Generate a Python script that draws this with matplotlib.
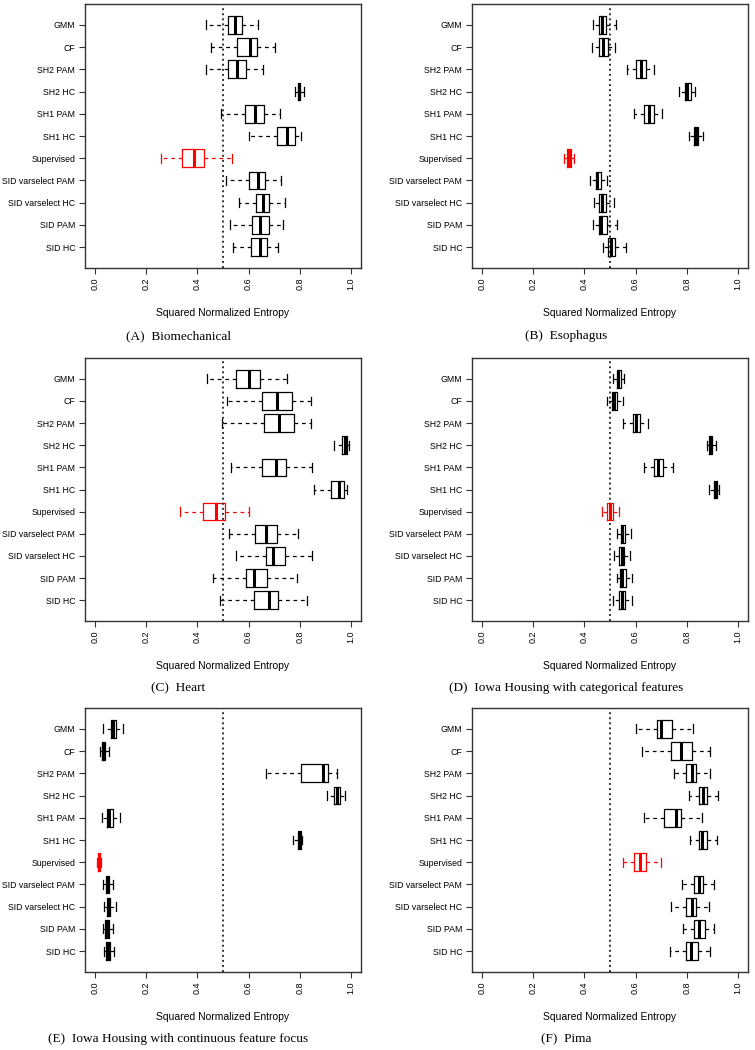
import matplotlib
matplotlib.use("Agg")
import matplotlib.pyplot as plt

plt.rcParams['font.family'] = ['Liberation Sans', 'DejaVu Sans']

# methods, top to bottom
methods = ["GMM", "CF", "SH2 PAM", "SH2 HC", "SH1 PAM", "SH1 HC", "Supervised",
           "SID varselect PAM", "SID varselect HC", "SID PAM", "SID HC"]

# five-number summaries per method: (whisker low, q1, median, q3, whisker high)
biomech = [(0.432, 0.518, 0.547, 0.576, 0.638), (0.453, 0.553, 0.605, 0.632, 0.702),
           (0.432, 0.521, 0.553, 0.590, 0.658), (0.780, 0.792, 0.797, 0.803, 0.816),
           (0.491, 0.586, 0.626, 0.660, 0.723), (0.603, 0.710, 0.749, 0.783, 0.805),
           (0.256, 0.341, 0.388, 0.426, 0.535), (0.513, 0.603, 0.635, 0.664, 0.727),
           (0.561, 0.629, 0.658, 0.681, 0.743), (0.527, 0.612, 0.645, 0.680, 0.734),
           (0.540, 0.608, 0.645, 0.673, 0.716)]
esophagus = [(0.432, 0.456, 0.467, 0.484, 0.523), (0.428, 0.458, 0.471, 0.491, 0.520),
             (0.565, 0.603, 0.621, 0.641, 0.672), (0.770, 0.794, 0.803, 0.815, 0.832),
             (0.594, 0.634, 0.652, 0.672, 0.702), (0.811, 0.827, 0.835, 0.845, 0.862),
             (0.320, 0.333, 0.340, 0.348, 0.361), (0.422, 0.444, 0.451, 0.464, 0.487),
             (0.437, 0.458, 0.469, 0.483, 0.514), (0.432, 0.456, 0.466, 0.488, 0.527),
             (0.471, 0.491, 0.504, 0.521, 0.561)]
heart = [(0.439, 0.552, 0.602, 0.645, 0.751), (0.517, 0.654, 0.712, 0.771, 0.844),
         (0.497, 0.661, 0.720, 0.779, 0.844), (0.935, 0.967, 0.977, 0.986, 0.993),
         (0.531, 0.651, 0.708, 0.747, 0.849), (0.858, 0.922, 0.953, 0.973, 0.987),
         (0.331, 0.421, 0.474, 0.507, 0.600), (0.522, 0.624, 0.667, 0.710, 0.792),
         (0.552, 0.667, 0.697, 0.741, 0.850), (0.460, 0.589, 0.621, 0.673, 0.790),
         (0.488, 0.621, 0.680, 0.716, 0.828)]
iowa_cat = [(0.510, 0.527, 0.532, 0.542, 0.555), (0.487, 0.507, 0.514, 0.526, 0.551),
            (0.551, 0.589, 0.600, 0.617, 0.647), (0.878, 0.889, 0.895, 0.901, 0.913),
            (0.634, 0.674, 0.689, 0.706, 0.746), (0.889, 0.906, 0.910, 0.917, 0.927),
            (0.467, 0.490, 0.500, 0.510, 0.534), (0.526, 0.542, 0.548, 0.560, 0.582),
            (0.514, 0.534, 0.545, 0.555, 0.577), (0.526, 0.539, 0.548, 0.561, 0.586),
            (0.510, 0.534, 0.545, 0.559, 0.587)]
iowa_cont = [(0.031, 0.061, 0.070, 0.082, 0.107), (0.018, 0.026, 0.031, 0.039, 0.055),
             (0.668, 0.807, 0.892, 0.911, 0.948), (0.906, 0.935, 0.948, 0.958, 0.979),
             (0.026, 0.046, 0.055, 0.068, 0.095), (0.773, 0.792, 0.798, 0.805, 0.809),
             (0.0065, 0.010, 0.013, 0.017, 0.021), (0.031, 0.042, 0.048, 0.055, 0.069),
             (0.035, 0.046, 0.052, 0.059, 0.081), (0.030, 0.039, 0.047, 0.055, 0.070),
             (0.033, 0.043, 0.051, 0.057, 0.075)]
pima = [(0.602, 0.682, 0.698, 0.741, 0.823), (0.625, 0.737, 0.779, 0.820, 0.891),
        (0.750, 0.797, 0.819, 0.836, 0.891), (0.811, 0.848, 0.865, 0.879, 0.921),
        (0.634, 0.710, 0.758, 0.777, 0.861), (0.813, 0.850, 0.861, 0.878, 0.917),
        (0.551, 0.592, 0.617, 0.642, 0.699), (0.780, 0.827, 0.849, 0.863, 0.905),
        (0.738, 0.797, 0.819, 0.837, 0.888), (0.784, 0.829, 0.849, 0.871, 0.906),
        (0.734, 0.797, 0.816, 0.846, 0.893)]

captions = ["(A)  Biomechanical", "(B)  Esophagus", "(C)  Heart",
            "(D)  Iowa Housing with categorical features",
            "(E)  Iowa Housing with continuous feature focus", "(F)  Pima"]
panels = [biomech, esophagus, heart, iowa_cat, iowa_cont, pima]
xticks = [0.0, 0.2, 0.4, 0.6, 0.8, 1.0]

W, H = 755, 1050
fig = plt.figure(figsize=(W / 100, H / 100), dpi=100)

col_x = [(85, 361), (472, 748)]
row_y = [(4, 268), (358, 621), (708, 972)]
cap_x = [178, 566]
cap_y = [336, 688, 1039]

for k, data in enumerate(panels):
    r, c = k // 2, k % 2
    x0, x1 = col_x[c]
    y0, y1 = row_y[r]
    ax = fig.add_axes([x0 / W, 1 - y1 / H, (x1 - x0) / W, (y1 - y0) / H])

    n = len(methods)
    positions = list(range(n, 0, -1))
    for name, s, p in zip(methods, data, positions):
        col = 'red' if name == "Supervised" else 'black'
        st = [dict(whislo=s[0], q1=s[1], med=s[2], q3=s[3], whishi=s[4], label=name)]
        ax.bxp(st, positions=[p], widths=0.8, capwidths=0.4, orientation='horizontal',
               showfliers=False, patch_artist=False, manage_ticks=False,
               boxprops=dict(color=col, lw=0.9),
               whiskerprops=dict(color=col, lw=0.9, ls=(0, (3, 3))),
               capprops=dict(color=col, lw=0.9),
               medianprops=dict(color=col, lw=2.2, solid_capstyle='butt'))

    ax.axvline(0.5, color='#333333', lw=1.4, ls=(0, (1, 1.6)))
    ax.set_xlim(-0.04, 1.04)
    ax.set_ylim(0.06, 11.94)
    ax.set_yticks(positions)
    ax.set_yticklabels(methods, fontsize=6.3)
    ax.set_xticks(xticks)
    ax.set_xticklabels([f"{t:.1f}" for t in xticks], rotation=90, fontsize=6.5)
    ax.tick_params(direction='out', length=4, width=0.8, color='#333333', pad=3)
    for sp in ax.spines.values():
        sp.set_color('#333333')
        sp.set_linewidth(1.0)
    ax.set_xlabel("Squared Normalized Entropy", fontsize=7.5, labelpad=13)

    fig.text(cap_x[c] / W, 1 - cap_y[r] / H, captions[k], ha='center', va='center',
             fontsize=9.5, family=['Liberation Serif', 'DejaVu Serif'])

fig.savefig("out.png", dpi=100)
